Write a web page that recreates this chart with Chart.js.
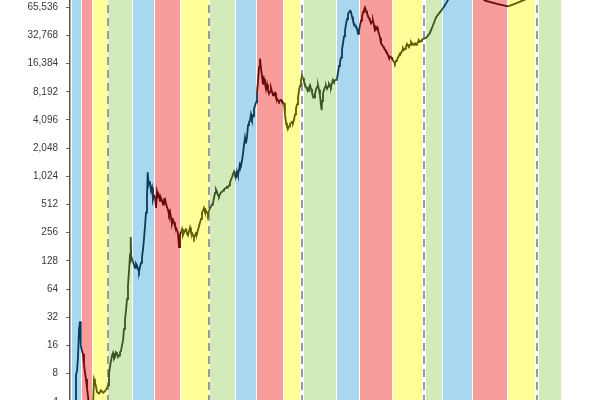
<!DOCTYPE html>
<html>
<head>
<meta charset="utf-8">
<script src="https://cdn.jsdelivr.net/npm/chart.js@4"></script>
<style>
  html, body { margin: 0; padding: 0; background: #ffffff; overflow: hidden; width: 600px; height: 400px; }
  #wrap { position: absolute; left: 0; top: -41px; width: 600px; height: 491px; }
</style>
</head>
<body>
<div id="wrap"><canvas id="c" width="600" height="491"></canvas></div>
<script>
// ---- DATA ----
// Market-cycle phase bands (start year of each band; last value is end of final band)
const bandEdges = [2011.000, 2011.364, 2011.764, 2012.327, 2013.218, 2014.018, 2014.964, 2016.000,
  2016.964, 2017.727, 2018.709, 2019.400, 2020.636, 2021.473, 2022.673, 2023.836,
  2024.509, 2025.582, 2026.855, 2027.945, 2028.818];
const bandPhases = ['bull','bear','accum','recovery','bull','bear','accum','recovery','bull','bear',
  'accum','recovery','bull','bear','accum','recovery','bull','bear','accum','recovery'];
// Dashed cycle markers (halvings)
const halvingDates = [2012.309, 2015.982, 2019.364, 2023.800, 2027.909];

// Y axis tick values and labels (log2)
const yTickValues = [2, 4, 8, 16, 32, 64, 128, 256, 512, 1024, 2048, 4096, 8192, 16384, 32768, 65536, 131072];
const yTickLabels = ['2', '4', '8', '16', '32', '64', '128', '256', '512', '1,024', '2,048', '4,096',
  '8,192', '16,384', '32,768', '65,536', '131,072'];

// Price series (decimal year, USD)
const priceDates = [
  2011.109, 2011.145, 2011.182, 2011.218, 2011.255, 2011.291, 2011.309, 2011.327, 2011.364, 2011.400,
  2011.436, 2011.473, 2011.509, 2011.545, 2011.582, 2011.618, 2011.655, 2011.691, 2011.727, 2011.764,
  2011.800, 2011.836, 2011.873, 2011.909, 2011.982, 2012.055, 2012.127, 2012.200, 2012.273, 2012.309,
  2012.345, 2012.382, 2012.418, 2012.455, 2012.491, 2012.527, 2012.564, 2012.600, 2012.636, 2012.673,
  2012.709, 2012.745, 2012.782, 2012.818, 2012.855, 2012.891, 2012.927, 2012.964, 2013.000, 2013.036,
  2013.073, 2013.109, 2013.135, 2013.156, 2013.182, 2013.218, 2013.255, 2013.291, 2013.327, 2013.364,
  2013.400, 2013.436, 2013.473, 2013.509, 2013.545, 2013.582, 2013.618, 2013.655, 2013.691, 2013.727,
  2013.753, 2013.782, 2013.800, 2013.836, 2013.873, 2013.909, 2013.945, 2013.982, 2014.018, 2014.055,
  2014.091, 2014.127, 2014.164, 2014.200, 2014.236, 2014.273, 2014.309, 2014.345, 2014.382, 2014.418,
  2014.455, 2014.491, 2014.527, 2014.564, 2014.600, 2014.636, 2014.673, 2014.709, 2014.745, 2014.782,
  2014.818, 2014.855, 2014.891, 2014.927, 2014.964, 2015.000, 2015.036, 2015.073, 2015.109, 2015.145,
  2015.182, 2015.218, 2015.255, 2015.291, 2015.327, 2015.364, 2015.400, 2015.436, 2015.473, 2015.509,
  2015.545, 2015.582, 2015.618, 2015.655, 2015.691, 2015.727, 2015.764, 2015.800, 2015.836, 2015.873,
  2015.909, 2015.945, 2015.982, 2016.018, 2016.055, 2016.091, 2016.127, 2016.164, 2016.200, 2016.236,
  2016.273, 2016.309, 2016.345, 2016.382, 2016.418, 2016.455, 2016.491, 2016.527, 2016.564, 2016.600,
  2016.636, 2016.673, 2016.709, 2016.745, 2016.782, 2016.818, 2016.855, 2016.891, 2016.927, 2016.964,
  2017.000, 2017.036, 2017.073, 2017.109, 2017.145, 2017.182, 2017.218, 2017.255, 2017.291, 2017.327,
  2017.364, 2017.400, 2017.436, 2017.473, 2017.509, 2017.545, 2017.582, 2017.618, 2017.655, 2017.691,
  2017.727, 2017.764, 2017.800, 2017.836, 2017.873, 2017.909, 2017.945, 2017.982, 2018.018, 2018.055,
  2018.091, 2018.127, 2018.164, 2018.200, 2018.236, 2018.273, 2018.309, 2018.345, 2018.382, 2018.418,
  2018.455, 2018.491, 2018.527, 2018.564, 2018.600, 2018.636, 2018.673, 2018.709, 2018.745, 2018.782,
  2018.818, 2018.855, 2018.891, 2018.927, 2018.964, 2019.000, 2019.036, 2019.073, 2019.109, 2019.145,
  2019.182, 2019.218, 2019.255, 2019.291, 2019.327, 2019.364, 2019.400, 2019.436, 2019.473, 2019.509,
  2019.545, 2019.582, 2019.618, 2019.655, 2019.691, 2019.727, 2019.764, 2019.800, 2019.836, 2019.873,
  2019.909, 2019.945, 2019.982, 2020.018, 2020.055, 2020.080, 2020.091, 2020.127, 2020.164, 2020.200,
  2020.236, 2020.273, 2020.309, 2020.345, 2020.382, 2020.418, 2020.455, 2020.491, 2020.527, 2020.564,
  2020.600, 2020.636, 2020.673, 2020.709, 2020.745, 2020.782, 2020.818, 2020.855, 2020.891, 2020.927,
  2020.964, 2021.000, 2021.036, 2021.073, 2021.109, 2021.145, 2021.182, 2021.218, 2021.255, 2021.291,
  2021.327, 2021.364, 2021.400, 2021.436, 2021.473, 2021.509, 2021.545, 2021.582, 2021.618, 2021.655,
  2021.691, 2021.727, 2021.764, 2021.800, 2021.836, 2021.873, 2021.909, 2021.945, 2021.982, 2022.018,
  2022.055, 2022.091, 2022.127, 2022.164, 2022.200, 2022.236, 2022.273, 2022.309, 2022.345, 2022.382,
  2022.418, 2022.455, 2022.491, 2022.527, 2022.564, 2022.600, 2022.636, 2022.673, 2022.709, 2022.745,
  2022.782, 2022.818, 2022.855, 2022.891, 2022.927, 2022.964, 2023.000, 2023.036, 2023.073, 2023.109,
  2023.145, 2023.182, 2023.218, 2023.255, 2023.291, 2023.327, 2023.364, 2023.400, 2023.436, 2023.473,
  2023.509, 2023.545, 2023.582, 2023.618, 2023.655, 2023.691, 2023.727, 2023.764, 2023.800, 2023.909,
  2024.018, 2024.127, 2024.236, 2024.382, 2024.491, 2024.600, 2024.745, 2025.036, 2025.327, 2025.655,
  2026.018, 2026.455, 2026.855, 2027.145, 2027.509, 2027.836];
const priceValues = [
  3.2, 7.8, 8.5, 12, 24, 29, 17, 16, 14, 13,
  10, 8.2, 7, 5.6, 4.6, 3.5, 2.6, 2.2, 2.7, 3.6,
  7, 6.5, 5.8, 5.1, 4.9, 5.3, 5.0, 5.2, 5.6, 6,
  8, 9.5, 11, 12.5, 13.3, 11.5, 12, 13.5, 13, 12,
  12.5, 13.5, 14, 16, 18, 24, 30, 38, 50, 70,
  100, 150, 230, 130, 135, 125, 115, 108, 120, 115,
  105, 98, 110, 122, 140, 170, 220, 300, 420, 600,
  1130, 850, 900, 880, 720, 780, 580, 640, 620, 470,
  700, 620, 640, 560, 600, 560, 512, 580, 590, 520,
  480, 450, 400, 430, 370, 320, 350, 330, 300, 290,
  270, 250, 180, 240, 260, 280, 240, 256, 270, 285,
  250, 240, 265, 290, 260, 255, 240, 225, 240, 255,
  250, 275, 300, 330, 360, 420, 440, 470, 430, 440,
  420, 400, 440, 470, 490, 512, 530, 600, 680, 740,
  700, 640, 620, 660, 690, 700, 720, 740, 760, 770,
  790, 780, 820, 880, 940, 1000, 1080, 1150, 1050, 980,
  1150, 1050, 1200, 1400, 1350, 1500, 1800, 2200, 2650, 2300,
  2700, 3600, 3900, 4000, 4700, 4200, 4500, 5400, 5800, 6300,
  8000, 10500, 15000, 18500, 14500, 12000, 9800, 11200, 10000, 8700,
  9800, 8500, 7800, 8200, 9000, 8200, 7500, 7800, 8000, 7200,
  6900, 6600, 6400, 6600, 6700, 6400, 6300, 6200, 4700, 3800,
  3500, 3300, 3500, 3700, 3800, 3900, 3800, 4100, 4700, 5400,
  6000, 7000, 8500, 9500, 11000, 12200, 11500, 10500, 9800, 9200,
  8700, 8400, 9000, 9600, 8800, 8000, 7500, 7100, 7800, 8700,
  9200, 9600, 8600, 7500, 5800, 5200, 6500, 7800, 8600, 9200,
  9500, 8800, 9300, 10000, 9600, 9200, 10200, 11000, 10500, 10800,
  11000, 11400, 13000, 15500, 17000, 19000, 23000, 27000, 32000, 37000,
  43000, 49000, 55000, 58000, 60000, 58000, 52000, 47000, 44000, 42000,
  40000, 39000, 34000, 37000, 42000, 47000, 51000, 58000, 61000, 65000,
  60000, 56000, 53000, 50000, 47000, 44000, 46000, 47000, 42000, 37000,
  38000, 40000, 37000, 34000, 31000, 27000, 26000, 25000, 24000, 23000,
  22000, 21500, 20000, 19000, 19500, 19200, 18500, 18000, 17000, 16400,
  17500, 18000, 19000, 20000, 21000, 21000, 22500, 24000, 23000, 23500,
  25000, 26500, 25500, 24500, 26000, 28000, 27000, 26000, 26500, 27000,
  26000, 26500, 28000, 29000, 28000, 28500, 29500, 30000, 30000, 31500,
  35000, 42000, 51000, 58000, 64000, 72000, 85000, 100000, 105000, 95000,
  77000, 71000, 67000, 72000, 80000, 92000];

// ---- STYLE ----
const bandFill = { bull: '#a9d7ef', bear: '#f89c9c', accum: '#ffff99', recovery: '#d3eabb' };
const lineColor = { bull: '#0b3a5a', bear: '#6b0a0a', accum: '#5e5e00', recovery: '#3b5522' };

function phaseAt(x) {
  for (let i = 0; i < bandPhases.length; i++) {
    if (x >= bandEdges[i] && x < bandEdges[i + 1]) return bandPhases[i];
  }
  return 'recovery';
}

const bandsPlugin = {
  id: 'bands',
  beforeDatasetsDraw(chart) {
    const { ctx, chartArea: ca, scales: { x } } = chart;
    ctx.save();
    ctx.beginPath();
    ctx.rect(ca.left, ca.top, ca.right - ca.left, ca.bottom - ca.top);
    ctx.clip();
    for (let i = 0; i < bandPhases.length; i++) {
      const a = Math.round(x.getPixelForValue(bandEdges[i]));
      const b = Math.round(x.getPixelForValue(bandEdges[i + 1]));
      ctx.fillStyle = bandFill[bandPhases[i]];
      ctx.fillRect(a, ca.top, b - a - 1, ca.bottom - ca.top);
    }
    halvingDates.forEach((d, i) => {
      const px = Math.round(x.getPixelForValue(d));
      if (i >= 2) {
        ctx.fillStyle = '#ffffff';
        ctx.fillRect(px - 2, ca.top, 4, ca.bottom - ca.top);
      }
      ctx.beginPath();
      ctx.setLineDash([8, 5]);
      ctx.lineWidth = 2;
      ctx.strokeStyle = '#9a9a9a';
      ctx.moveTo(px, ca.top);
      ctx.lineTo(px, ca.bottom);
      ctx.stroke();
    });
    ctx.restore();
  }
};

const points = priceDates.map((d, i) => ({ x: d, y: priceValues[i] }));

new Chart(document.getElementById('c'), {
  type: 'line',
  data: {
    datasets: [{
      data: points,
      borderColor: '#333',
      borderWidth: 1.8,
      pointRadius: 0,
      tension: 0,
      segment: {
        borderColor: (c) => lineColor[phaseAt((c.p0.parsed.x + c.p1.parsed.x) / 2)]
      }
    }]
  },
  options: {
    responsive: false,
    animation: false,
    layout: { padding: { top: 20, bottom: 20, left: 0, right: 0 } },
    plugins: { legend: { display: false }, tooltip: { enabled: false } },
    scales: {
      x: { type: 'linear', min: 2010.927, max: 2030.2, display: false },
      y: {
        type: 'logarithmic',
        min: 2,
        max: 131072,
        afterBuildTicks: (s) => { s.ticks = yTickValues.map(v => ({ value: v })); },
        afterFit: (s) => { s.width = 70; },
        ticks: {
          autoSkip: false,
          padding: 8,
          color: '#3a3a3a',
          font: { family: '"Liberation Sans", Arial, sans-serif', size: 10 },
          callback: (v, i) => yTickLabels[yTickValues.indexOf(v)]
        },
        grid: { display: true, drawOnChartArea: false, drawTicks: true, tickLength: 4, color: '#666666', lineWidth: 1 },
        border: { display: true, color: '#555555', width: 1.5 }
      }
    }
  },
  plugins: [bandsPlugin]
});
</script>
</body>
</html>
